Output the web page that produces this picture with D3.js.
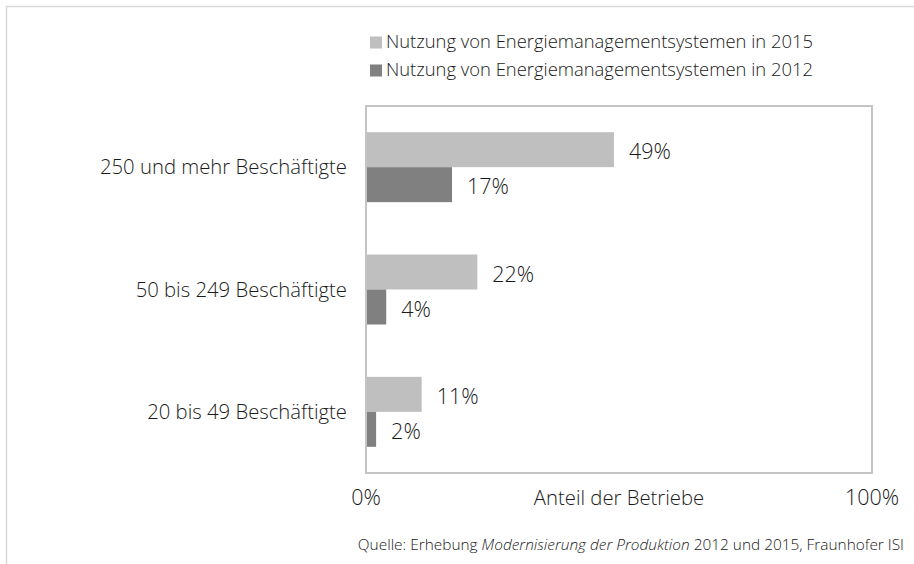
<!DOCTYPE html>
<html>
<head>
<meta charset="utf-8">
<script src="https://cdn.jsdelivr.net/npm/d3@7"></script>
<style>
  body { margin: 0; background: #fff; }
  svg { display: block; font-family: 'Open Sans', 'Noto Sans', sans-serif; font-weight: 300; }
</style>
</head>
<body>
<svg id="chart"></svg>
<script>
const categories = ['250 und mehr Beschäftigte', '50 bis 249 Beschäftigte', '20 bis 49 Beschäftigte'];
const seriesNames = ['Nutzung von Energiemanagementsystemen in 2015', 'Nutzung von Energiemanagementsystemen in 2012'];
const values2015 = [49, 22, 11];
const values2012 = [17, 4, 2];
const tickLabels = ['0%', '100%'];
const axisTitle = 'Anteil der Betriebe';

const width = 914, height = 564;
const colors = ['#bfbfbf', '#808080'];
const textColor = '#1a1a1a';

const svg = d3.select('#chart').attr('width', width).attr('height', height);

// outer frame (only left and top edges fall inside the picture)
svg.append('rect')
  .attr('x', 6.5).attr('y', 6.5)
  .attr('width', 940).attr('height', 600)
  .attr('fill', 'none')
  .attr('stroke', '#d9d9d9')
  .attr('stroke-width', 1.5);

const plot = { left: 366, right: 872, top: 106, bottom: 473 };

const x = d3.scaleLinear().domain([0, 100]).range([plot.left, plot.right]);
const y = d3.scaleBand().domain(categories)
  .range([plot.top, plot.bottom])
  .paddingInner(0.428).paddingOuter(0.214);
const ySub = d3.scaleBand().domain(seriesNames).range([0, y.bandwidth()]);

const rows = categories.map((c, i) => ({
  cat: c,
  vals: [
    { s: seriesNames[0], v: values2015[i] },
    { s: seriesNames[1], v: values2012[i] }
  ]
}));

// legend
const legend = svg.append('g').attr('transform', 'translate(370, 0)');
seriesNames.forEach((s, i) => {
  const ly = 42 + i * 28;
  legend.append('rect')
    .attr('x', 0).attr('y', ly - 5.5)
    .attr('width', 12).attr('height', 12)
    .attr('fill', colors[i]);
  legend.append('text')
    .attr('x', 16).attr('y', ly)
    .attr('dy', '0.35em')
    .style('font-size', '18.4px')
    .style('fill', textColor)
    .text(s);
});

// bars
const groups = svg.append('g').selectAll('g')
  .data(rows)
  .enter().append('g')
  .attr('transform', d => `translate(0, ${y(d.cat)})`);

groups.selectAll('rect')
  .data(d => d.vals)
  .enter().append('rect')
  .attr('x', x(0))
  .attr('y', d => ySub(d.s))
  .attr('width', d => x(d.v) - x(0))
  .attr('height', ySub.bandwidth())
  .attr('fill', (d, i) => colors[i]);

groups.selectAll('text.val')
  .data(d => d.vals)
  .enter().append('text')
  .attr('class', 'val')
  .attr('x', d => x(d.v) + 15)
  .attr('y', d => ySub(d.s) + ySub.bandwidth() / 2 + 2)
  .attr('dy', '0.35em')
  .style('font-size', '21.5px')
  .style('fill', textColor)
  .text(d => d.v + '%');

// category labels
svg.append('g').selectAll('text')
  .data(categories)
  .enter().append('text')
  .attr('x', 347)
  .attr('y', d => y(d) + y.bandwidth() / 2)
  .attr('dy', '0.35em')
  .attr('text-anchor', 'end')
  .style('font-size', '20.3px')
  .style('fill', textColor)
  .text(d => d);

// plot frame
svg.append('rect')
  .attr('x', plot.left).attr('y', plot.top)
  .attr('width', plot.right - plot.left)
  .attr('height', plot.bottom - plot.top)
  .attr('fill', 'none')
  .attr('stroke', '#c4c4c4')
  .attr('stroke-width', 2);

// axis labels
svg.append('g').selectAll('text')
  .data([0, 100])
  .enter().append('text')
  .attr('x', d => x(d))
  .attr('y', 505)
  .attr('text-anchor', 'middle')
  .style('font-size', '21.5px')
  .style('fill', textColor)
  .text((d, i) => tickLabels[i]);

svg.append('text')
  .attr('x', x(50))
  .attr('y', 505)
  .attr('text-anchor', 'middle')
  .style('font-size', '20.3px')
  .style('fill', textColor)
  .text(axisTitle);

// source
const src = svg.append('text')
  .attr('x', 904).attr('y', 550)
  .attr('text-anchor', 'end')
  .style('font-size', '15.4px')
  .style('fill', textColor);
src.append('tspan').text('Quelle: Erhebung ');
src.append('tspan').style('font-style', 'italic').text('Modernisierung der Produktion');
src.append('tspan').text(' 2012 und 2015, Fraunhofer ISI');
</script>
</body>
</html>
